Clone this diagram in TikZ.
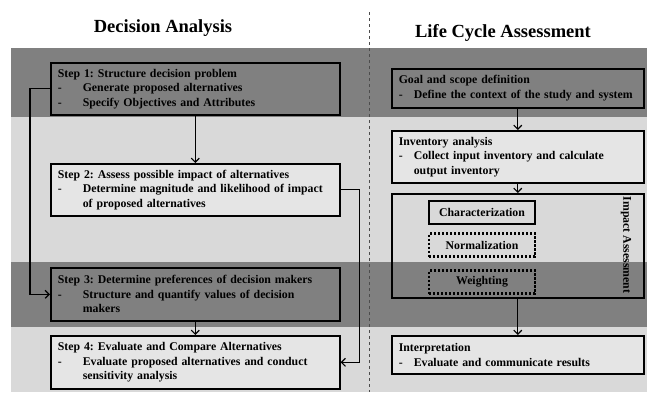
\documentclass[tikz,border=0pt]{standalone}
\usepackage{fontspec}
\setmainfont{Liberation Serif}
\usetikzlibrary{arrows.meta}
\frenchspacing
\newcommand{\lstep}[1]{\makebox[25pt][l]{-}#1}
\newcommand{\rstep}[1]{\makebox[15pt][l]{-}#1}

\begin{document}
\begin{tikzpicture}[x=1pt,y=-1pt,
  txt/.style={font=\bfseries\fontsize{11.8}{14.5}\selectfont},
  lbox/.style={txt,draw,line width=1.6pt,anchor=north west,align=left,inner xsep=7pt,
    minimum width=289pt,text width=275pt},
  rbox/.style={txt,draw,line width=1.6pt,anchor=north west,align=left,inner xsep=7pt,
    minimum width=252pt,text width=238pt},
  sbox/.style={txt,draw,line width=1.6pt,minimum width=106pt,minimum height=23pt},
  dbox/.style={sbox,line width=2.2pt,dash pattern=on 2.2pt off 1.8pt},
  arr/.style={-{Straight Barb[length=4pt,width=8pt]},line width=1.2pt}]
  \useasboundingbox (0,0) rectangle (647,392);
  \fill[black!50] (11,48) rectangle (647,117);
  \fill[black!15] (11,117) rectangle (647,262);
  \fill[black!50] (11,262) rectangle (647,327);
  \fill[black!15] (11,327) rectangle (647,392);
  \coordinate (top) at (369,12);
  \coordinate (bot) at (369,392);
  \draw[dashed,black!70] (top) -- (bot);
  \node[font=\bfseries\fontsize{18.5}{20}\selectfont] (da) at (163,28) {Decision Analysis};
  \node[font=\bfseries\fontsize{18.5}{20}\selectfont] (lca) at (503,33) {Life Cycle Assessment};
  \node[lbox,minimum height=52pt] (s1) at (50,62) {Step 1: Structure decision problem\\
    \lstep{Generate proposed alternatives}\\ \lstep{Specify Objectives and Attributes}};
  \node[lbox,minimum height=52pt,fill=black!10] (s2) at (50,163) {Step 2: Assess possible impact of alternatives\\
    \lstep{Determine magnitude and likelihood\ of impact}\\ \hspace*{25pt}of proposed alternatives};
  \node[lbox,minimum height=53pt] (s3) at (50,267) {Step 3: Determine preferences of decision makers\\
    \lstep{Structure and quantify values of decision}\\ \hspace*{25pt}makers};
  \node[lbox,minimum height=53pt,fill=black!10] (s4) at (50,335) {Step 4: Evaluate and Compare Alternatives\\
    \lstep{Evaluate proposed alternatives and conduct}\\ \hspace*{25pt}sensitivity\ analysis};
  \draw[arr] (s1) -- (s2);
  \draw[arr] (s3) -- (s4);
  \draw[arr] (s1.west) -- ++(-20,0) |- (s3.west);
  \draw[arr] (s2.east) -- ++(19,0) |- (s4.east);
  \node[rbox,minimum height=39pt] (goal) at (391,68) {Goal and scope definition\\
    \rstep{Define the context of the study and system}};
  \node[rbox,minimum height=52pt,fill=black!10] (inv) at (391,130) {Inventory analysis\\
    \rstep{Collect input inventory and calculate}\\ \hspace*{15pt}output inventory};
  \node[draw,line width=1.6pt,anchor=north west,minimum width=252pt,minimum height=104pt] (ia) at (391,193) {};
  \node[txt,rotate=-90] (ialab) at (626,245) {Impact Assessment};
  \node[sbox] (char) at (482,212.5) {Characterization};
  \node[dbox] (norm) at (482,245) {Normalization};
  \node[dbox] (wgt) at (482,282) {Weighting};
  \node[rbox,minimum height=38pt,fill=black!10] (interp) at (391,335) {Interpretation\\
    \rstep{Evaluate and communicate results}};
  \draw[arr] (goal) -- (inv);
  \draw[arr] (inv) -- (ia);
  \draw[arr] (ia) -- (interp);
\end{tikzpicture}
\end{document}
